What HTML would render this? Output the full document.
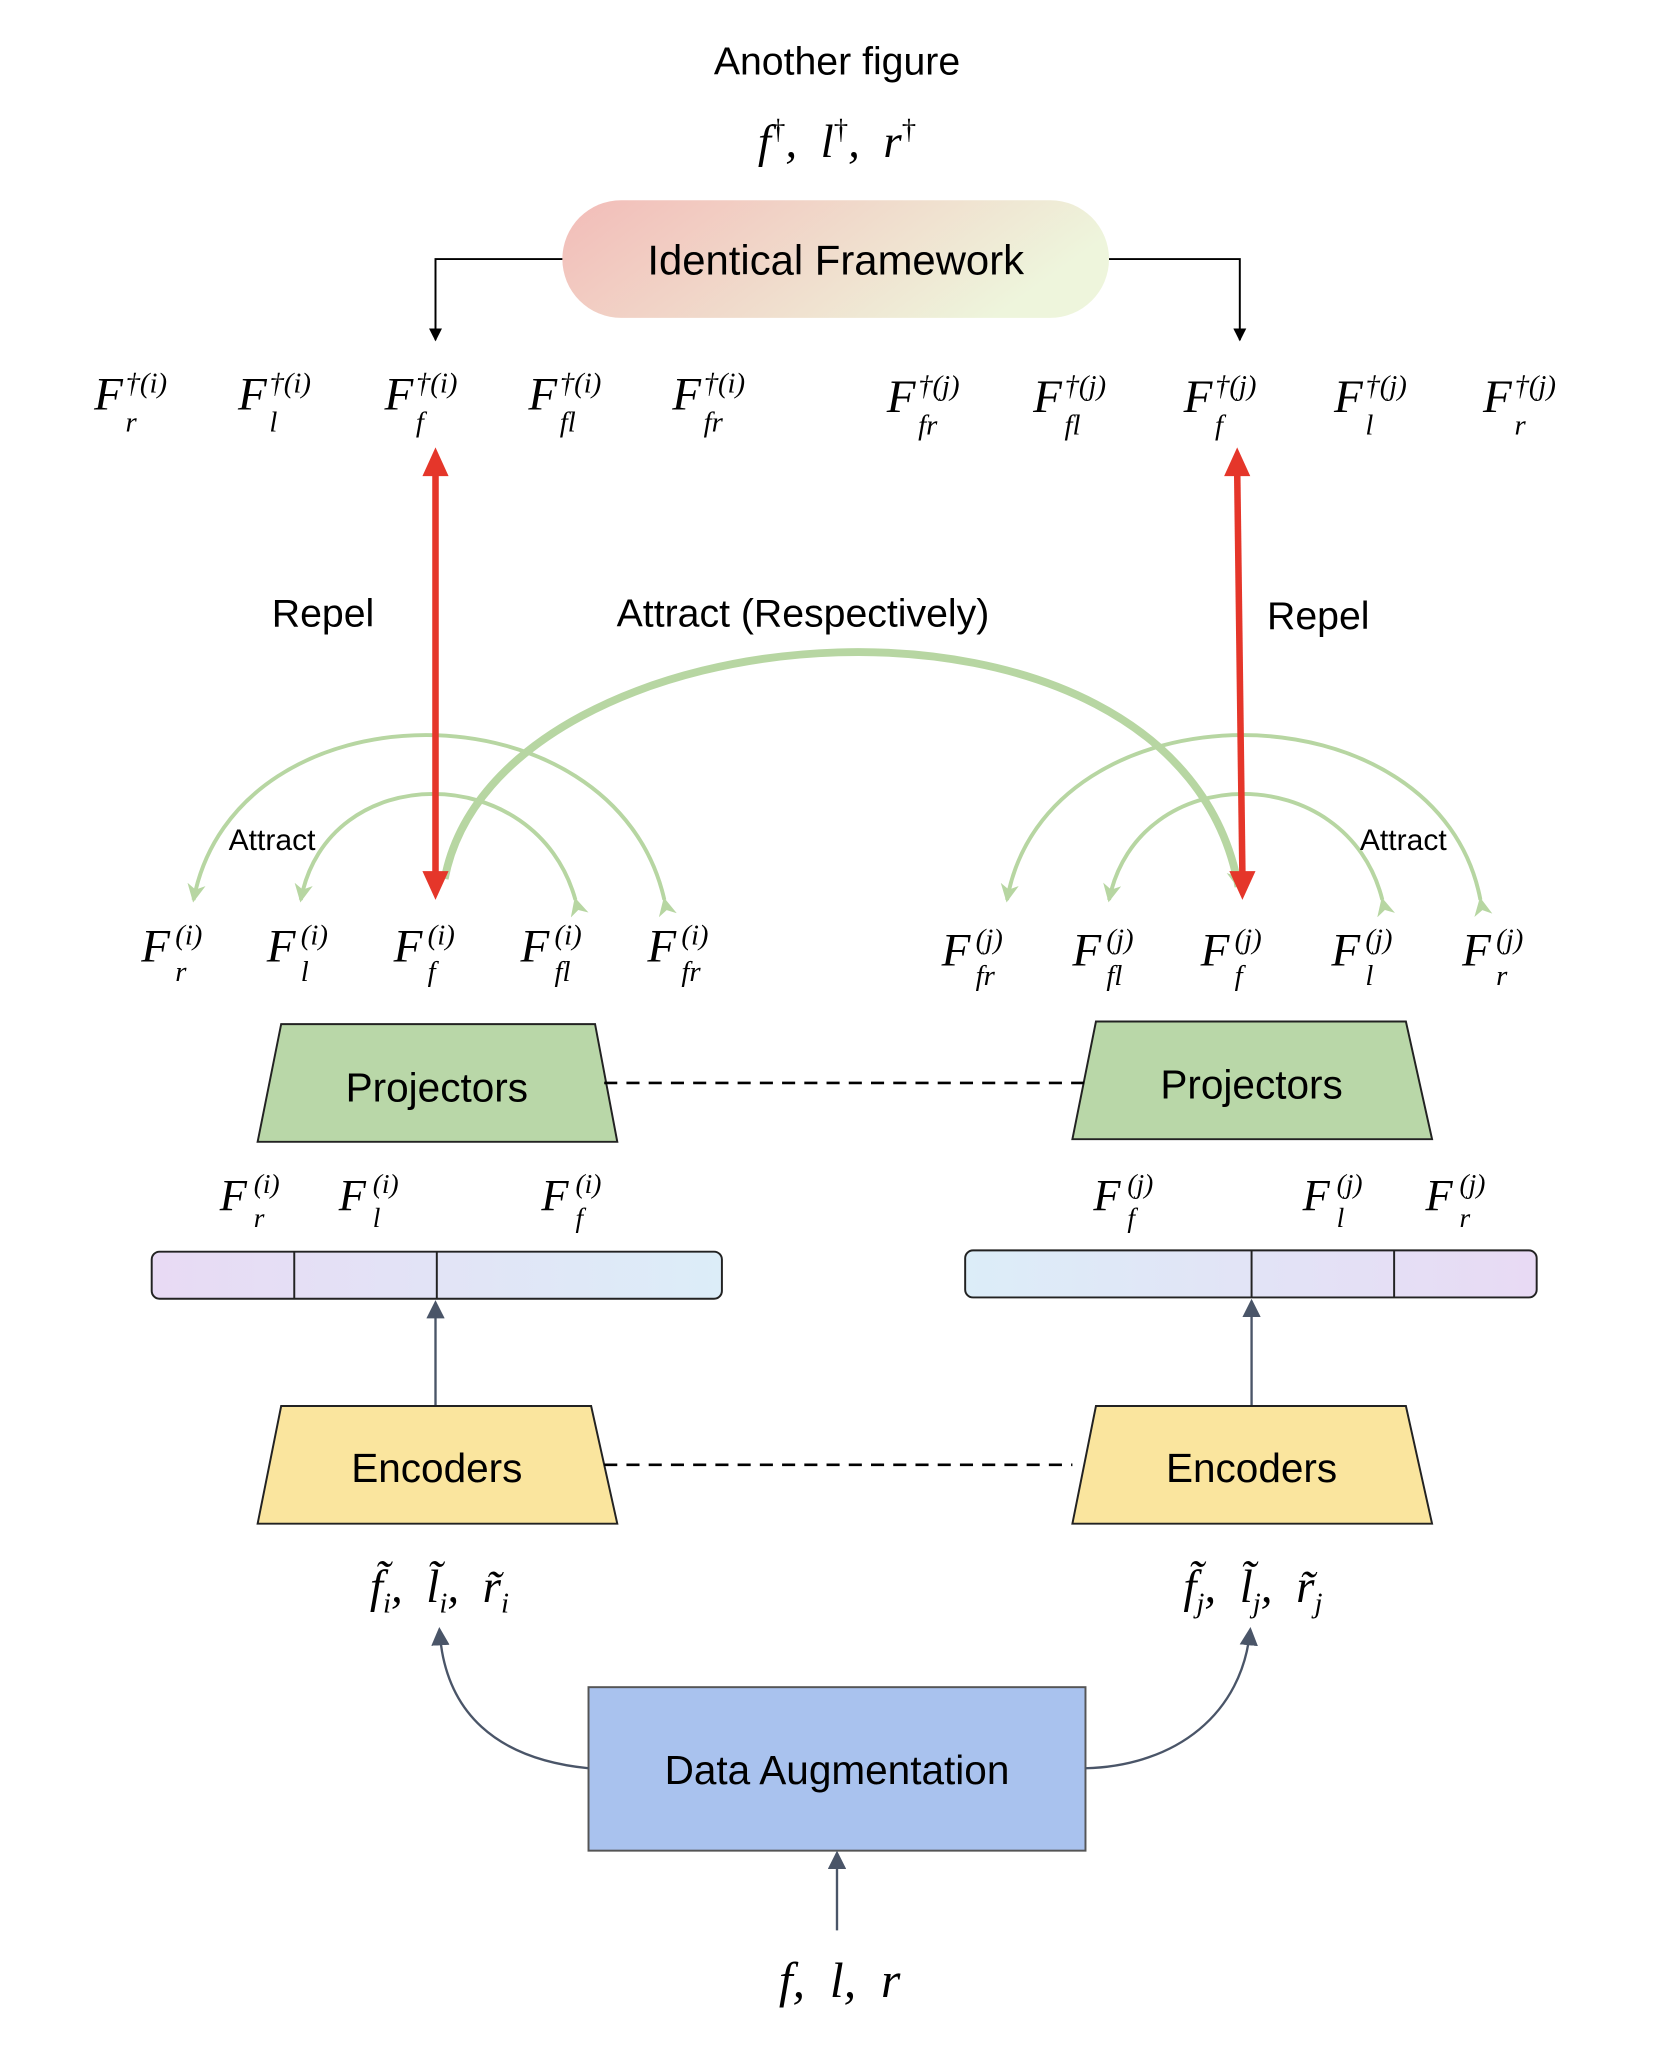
<!DOCTYPE html>
<html><head><meta charset="utf-8"><style>
html,body{margin:0;padding:0;background:#fff;}
svg{display:block;}
.t{font-family:"Liberation Sans",sans-serif;fill:#000;}
.m{font-family:"Liberation Serif",serif;font-style:italic;fill:#000;white-space:pre;}
</style></head><body>
<svg width="1674" height="2060" viewBox="0 0 1280 1575" xmlns="http://www.w3.org/2000/svg">
<defs>
<linearGradient id="pill" x1="0" x2="1" y1="0" y2="0.3"><stop offset="0" stop-color="#f3bcb8"/><stop offset="1" stop-color="#eef5dc"/></linearGradient>
<linearGradient id="barL" x1="0" x2="1"><stop offset="0" stop-color="#e8daf4"/><stop offset="1" stop-color="#dcedf8"/></linearGradient>
<linearGradient id="barR" x1="1" x2="0"><stop offset="0" stop-color="#e8daf4"/><stop offset="1" stop-color="#dcedf8"/></linearGradient>
<marker id="ak" markerWidth="10" markerHeight="10" refX="9" refY="5" orient="auto" markerUnits="userSpaceOnUse"><path d="M0,0 L10,5 L0,10z" fill="#000"/></marker>
<marker id="ag" markerWidth="14" markerHeight="14" refX="12" refY="7" orient="auto" markerUnits="userSpaceOnUse"><path d="M0,0 L14,7 L0,14 L4,7z" fill="#b7d6a2"/></marker>
<marker id="as" markerWidth="14" markerHeight="14" refX="12" refY="7" orient="auto" markerUnits="userSpaceOnUse"><path d="M0,0 L14,7 L0,14z" fill="#4a5568"/></marker>
</defs>

<text class="t" x="640" y="57" font-size="30" text-anchor="middle">Another figure</text>
<text class="m" x="640" y="120" font-size="36" text-anchor="middle">f<tspan font-size="22" dy="-14" font-style="normal">†</tspan><tspan dy="14">,  l</tspan><tspan font-size="22" dy="-14" font-style="normal">†</tspan><tspan dy="14">,  r</tspan><tspan font-size="22" dy="-14" font-style="normal">†</tspan></text>

<rect x="430" y="153" width="418" height="90" rx="45" fill="url(#pill)"/>
<text class="t" x="639" y="210" font-size="32" text-anchor="middle">Identical Framework</text>
<path d="M430,198 H333 V260" fill="none" stroke="#000" stroke-width="1.5" marker-end="url(#ak)"/>
<path d="M848,198 H948 V260" fill="none" stroke="#000" stroke-width="1.5" marker-end="url(#ak)"/>

<g font-size="36">
<text class="m" x="72" y="313">F</text><text class="m" x="96" y="300" font-size="22">†(i)</text><text class="m" x="96" y="330" font-size="22">r</text>
<text class="m" x="182" y="313">F</text><text class="m" x="206" y="300" font-size="22">†(i)</text><text class="m" x="206" y="330" font-size="22">l</text>
<text class="m" x="294" y="313">F</text><text class="m" x="318" y="300" font-size="22">†(i)</text><text class="m" x="318" y="330" font-size="22">f</text>
<text class="m" x="404" y="313">F</text><text class="m" x="428" y="300" font-size="22">†(i)</text><text class="m" x="428" y="330" font-size="22">fl</text>
<text class="m" x="514" y="313">F</text><text class="m" x="538" y="300" font-size="22">†(i)</text><text class="m" x="538" y="330" font-size="22">fr</text>
<text class="m" x="678" y="315">F</text><text class="m" x="702" y="302" font-size="22">†(j)</text><text class="m" x="702" y="332" font-size="22">fr</text>
<text class="m" x="790" y="315">F</text><text class="m" x="814" y="302" font-size="22">†(j)</text><text class="m" x="814" y="332" font-size="22">fl</text>
<text class="m" x="905" y="315">F</text><text class="m" x="929" y="302" font-size="22">†(j)</text><text class="m" x="929" y="332" font-size="22">f</text>
<text class="m" x="1020" y="315">F</text><text class="m" x="1044" y="302" font-size="22">†(j)</text><text class="m" x="1044" y="332" font-size="22">l</text>
<text class="m" x="1134" y="315">F</text><text class="m" x="1158" y="302" font-size="22">†(j)</text><text class="m" x="1158" y="332" font-size="22">r</text>
</g>

<text class="t" x="247" y="479" font-size="30" text-anchor="middle">Repel</text>
<text class="t" x="614" y="479" font-size="30" text-anchor="middle">Attract (Respectively)</text>
<text class="t" x="1008" y="481" font-size="30" text-anchor="middle">Repel</text>

<g fill="none" stroke="#b7d6a2">
<path d="M340,672 C380,460 900,420 947,678" stroke-width="6" marker-end="url(#ag)"/>
<path d="M508,688 C470,520 180,520 148,688" stroke-width="3" marker-start="url(#ag)" marker-end="url(#ag)"/>
<path d="M440,688 C410,580 250,580 230,688" stroke-width="3" marker-start="url(#ag)" marker-end="url(#ag)"/>
<path d="M1132,688 C1100,520 800,520 770,688" stroke-width="3" marker-start="url(#ag)" marker-end="url(#ag)"/>
<path d="M1057,688 C1030,580 870,580 848,688" stroke-width="3" marker-start="url(#ag)" marker-end="url(#ag)"/>
</g>
<text class="t" x="208" y="650" font-size="23" text-anchor="middle">Attract</text>
<text class="t" x="1073" y="650" font-size="23" text-anchor="middle">Attract</text>

<line x1="333" y1="360" x2="333" y2="670" stroke="#e5362a" stroke-width="5"/>
<line x1="946" y1="360" x2="950" y2="670" stroke="#e5362a" stroke-width="5"/>
<path d="M333,342 l-10,22 h20z M333,688 l-10,-22 h20z M946,342 l-10,22 h20z M950,688 l-10,-22 h20z" fill="#e5362a"/>

<g font-size="36">
<text class="m" x="108" y="735">F</text><text class="m" x="134" y="722" font-size="22">(i)</text><text class="m" x="134" y="750" font-size="22">r</text>
<text class="m" x="204" y="735">F</text><text class="m" x="230" y="722" font-size="22">(i)</text><text class="m" x="230" y="750" font-size="22">l</text>
<text class="m" x="301" y="735">F</text><text class="m" x="327" y="722" font-size="22">(i)</text><text class="m" x="327" y="750" font-size="22">f</text>
<text class="m" x="398" y="735">F</text><text class="m" x="424" y="722" font-size="22">(i)</text><text class="m" x="424" y="750" font-size="22">fl</text>
<text class="m" x="495" y="735">F</text><text class="m" x="521" y="722" font-size="22">(i)</text><text class="m" x="521" y="750" font-size="22">fr</text>
<text class="m" x="720" y="738">F</text><text class="m" x="746" y="725" font-size="22">(j)</text><text class="m" x="746" y="753" font-size="22">fr</text>
<text class="m" x="820" y="738">F</text><text class="m" x="846" y="725" font-size="22">(j)</text><text class="m" x="846" y="753" font-size="22">fl</text>
<text class="m" x="918" y="738">F</text><text class="m" x="944" y="725" font-size="22">(j)</text><text class="m" x="944" y="753" font-size="22">f</text>
<text class="m" x="1018" y="738">F</text><text class="m" x="1044" y="725" font-size="22">(j)</text><text class="m" x="1044" y="753" font-size="22">l</text>
<text class="m" x="1118" y="738">F</text><text class="m" x="1144" y="725" font-size="22">(j)</text><text class="m" x="1144" y="753" font-size="22">r</text>
</g>

<path d="M215,783 H455 L472,873 H197z" fill="#b9d7a8" stroke="#222" stroke-width="1.5"/>
<text class="t" x="334" y="842" font-size="31" text-anchor="middle">Projectors</text>
<path d="M838,781 H1075 L1095,871 H820z" fill="#b9d7a8" stroke="#222" stroke-width="1.5"/>
<text class="t" x="957" y="840" font-size="31" text-anchor="middle">Projectors</text>
<line x1="462" y1="828" x2="832" y2="828" stroke="#000" stroke-width="2" stroke-dasharray="10,7"/>

<g font-size="34">
<text class="m" x="168" y="925">F</text><text class="m" x="194" y="912" font-size="21">(i)</text><text class="m" x="194" y="938" font-size="21">r</text>
<text class="m" x="259" y="925">F</text><text class="m" x="285" y="912" font-size="21">(i)</text><text class="m" x="285" y="938" font-size="21">l</text>
<text class="m" x="414" y="925">F</text><text class="m" x="440" y="912" font-size="21">(i)</text><text class="m" x="440" y="938" font-size="21">f</text>
<text class="m" x="836" y="925">F</text><text class="m" x="862" y="912" font-size="21">(j)</text><text class="m" x="862" y="938" font-size="21">f</text>
<text class="m" x="996" y="925">F</text><text class="m" x="1022" y="912" font-size="21">(j)</text><text class="m" x="1022" y="938" font-size="21">l</text>
<text class="m" x="1090" y="925">F</text><text class="m" x="1116" y="912" font-size="21">(j)</text><text class="m" x="1116" y="938" font-size="21">r</text>
</g>

<rect x="116" y="957" width="436" height="36" rx="6" fill="url(#barL)" stroke="#222" stroke-width="1.5"/>
<line x1="225" y1="957" x2="225" y2="993" stroke="#222" stroke-width="1.5"/>
<line x1="334" y1="957" x2="334" y2="993" stroke="#222" stroke-width="1.5"/>
<rect x="738" y="956" width="437" height="36" rx="6" fill="url(#barR)" stroke="#222" stroke-width="1.5"/>
<line x1="957" y1="956" x2="957" y2="992" stroke="#222" stroke-width="1.5"/>
<line x1="1066" y1="956" x2="1066" y2="992" stroke="#222" stroke-width="1.5"/>

<line x1="333" y1="1075" x2="333" y2="996" stroke="#4a5568" stroke-width="1.8" marker-end="url(#as)"/>
<line x1="957" y1="1075" x2="957" y2="995" stroke="#4a5568" stroke-width="1.8" marker-end="url(#as)"/>

<path d="M215,1075 H452 L472,1165 H197z" fill="#fae59e" stroke="#222" stroke-width="1.5"/>
<text class="t" x="334" y="1133" font-size="31" text-anchor="middle">Encoders</text>
<path d="M838,1075 H1075 L1095,1165 H820z" fill="#fae59e" stroke="#222" stroke-width="1.5"/>
<text class="t" x="957" y="1133" font-size="31" text-anchor="middle">Encoders</text>
<line x1="462" y1="1120" x2="820" y2="1120" stroke="#000" stroke-width="2" stroke-dasharray="10,7"/>

<text class="m" x="336" y="1225" font-size="36" text-anchor="middle">f̃<tspan font-size="22" dy="8">i</tspan><tspan dy="-8">,  l̃</tspan><tspan font-size="22" dy="8">i</tspan><tspan dy="-8">,  r̃</tspan><tspan font-size="22" dy="8">i</tspan></text>
<text class="m" x="958" y="1225" font-size="36" text-anchor="middle">f̃<tspan font-size="22" dy="8">j</tspan><tspan dy="-8">,  l̃</tspan><tspan font-size="22" dy="8">j</tspan><tspan dy="-8">,  r̃</tspan><tspan font-size="22" dy="8">j</tspan></text>

<rect x="450" y="1290" width="380" height="125" fill="#a9c2ee" stroke="#555" stroke-width="1.5"/>
<text class="t" x="640" y="1364" font-size="31" text-anchor="middle">Data Augmentation</text>
<path d="M450,1352 C380,1345 340,1310 336,1246" fill="none" stroke="#4a5568" stroke-width="1.8" marker-end="url(#as)"/>
<path d="M830,1352 C900,1350 950,1310 956,1246" fill="none" stroke="#4a5568" stroke-width="1.8" marker-end="url(#as)"/>
<line x1="640" y1="1476" x2="640" y2="1417" stroke="#4a5568" stroke-width="1.8" marker-end="url(#as)"/>
<text class="m" x="642" y="1527" font-size="38" text-anchor="middle">f,  l,  r</text>
</svg>
</body></html>
